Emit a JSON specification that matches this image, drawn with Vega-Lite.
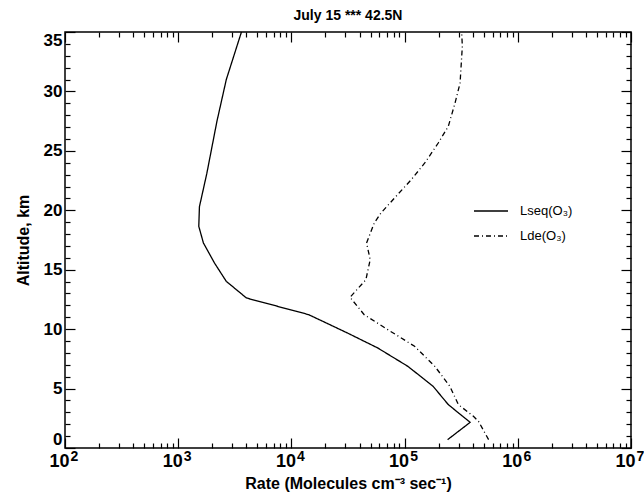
{
  "$schema": "https://vega.github.io/schema/vega-lite/v6.json",
  "width": 566,
  "height": 416,
  "autosize": {"type": "none"},
  "padding": {"left": 65, "top": 32, "right": 13, "bottom": 47},
  "background": "white",
  "title": {"text": "July 15 *** 42.5N", "font": "Liberation Sans", "fontSize": 14, "fontWeight": "bold", "color": "black", "anchor": "middle", "offset": 6},
  "config": {
    "view": {"stroke": "black", "strokeWidth": 1.5},
    "axis": {"domain": false, "tickColor": "black", "labelColor": "black", "titleColor": "black", "tickWidth": 1.2, "grid": false, "labelFont": "Liberation Sans", "titleFont": "Liberation Sans", "labelFlush": false, "labelOverlap": false, "labelBound": false}
  },
  "data": {"values": [
    {"series": "Lseq(O₃)", "alt": 35.0, "rate": 3620},
    {"series": "Lseq(O₃)", "alt": 31.0, "rate": 2660},
    {"series": "Lseq(O₃)", "alt": 27.5, "rate": 2200},
    {"series": "Lseq(O₃)", "alt": 23.1, "rate": 1790},
    {"series": "Lseq(O₃)", "alt": 20.3, "rate": 1540},
    {"series": "Lseq(O₃)", "alt": 18.65, "rate": 1520},
    {"series": "Lseq(O₃)", "alt": 17.25, "rate": 1670},
    {"series": "Lseq(O₃)", "alt": 15.57, "rate": 2090},
    {"series": "Lseq(O₃)", "alt": 14.02, "rate": 2660},
    {"series": "Lseq(O₃)", "alt": 12.62, "rate": 4010},
    {"series": "Lseq(O₃)", "alt": 11.22, "rate": 14200},
    {"series": "Lseq(O₃)", "alt": 9.68, "rate": 31200},
    {"series": "Lseq(O₃)", "alt": 8.42, "rate": 57800},
    {"series": "Lseq(O₃)", "alt": 6.87, "rate": 106900},
    {"series": "Lseq(O₃)", "alt": 5.19, "rate": 178600},
    {"series": "Lseq(O₃)", "alt": 3.65, "rate": 243200},
    {"series": "Lseq(O₃)", "alt": 2.16, "rate": 379300},
    {"series": "Lseq(O₃)", "alt": 0.7, "rate": 239900},
    {"series": "Lde(O₃)", "alt": 35.0, "rate": 319200},
    {"series": "Lde(O₃)", "alt": 33.8, "rate": 323600},
    {"series": "Lde(O₃)", "alt": 30.7, "rate": 309000},
    {"series": "Lde(O₃)", "alt": 29.0, "rate": 278600},
    {"series": "Lde(O₃)", "alt": 27.06, "rate": 243200},
    {"series": "Lde(O₃)", "alt": 25.66, "rate": 198200},
    {"series": "Lde(O₃)", "alt": 23.98, "rate": 150700},
    {"series": "Lde(O₃)", "alt": 22.58, "rate": 114600},
    {"series": "Lde(O₃)", "alt": 21.18, "rate": 84140},
    {"series": "Lde(O₃)", "alt": 19.77, "rate": 61800},
    {"series": "Lde(O₃)", "alt": 18.93, "rate": 53950},
    {"series": "Lde(O₃)", "alt": 17.25, "rate": 46130},
    {"series": "Lde(O₃)", "alt": 15.85, "rate": 49660},
    {"series": "Lde(O₃)", "alt": 14.16, "rate": 45500},
    {"series": "Lde(O₃)", "alt": 12.68, "rate": 32960},
    {"series": "Lde(O₃)", "alt": 11.22, "rate": 43950},
    {"series": "Lde(O₃)", "alt": 9.96, "rate": 70960},
    {"series": "Lde(O₃)", "alt": 8.56, "rate": 122500},
    {"series": "Lde(O₃)", "alt": 6.87, "rate": 184900},
    {"series": "Lde(O₃)", "alt": 5.19, "rate": 251200},
    {"series": "Lde(O₃)", "alt": 3.65, "rate": 298500},
    {"series": "Lde(O₃)", "alt": 2.67, "rate": 405500},
    {"series": "Lde(O₃)", "alt": 2.24, "rate": 449800},
    {"series": "Lde(O₃)", "alt": 0.7, "rate": 552100}
  ]},
  "layer": [
    {
      "mark": {"type": "line", "color": "black", "strokeWidth": 1.3},
      "encoding": {
        "x": {"field": "rate", "type": "quantitative", "scale": {"type": "log", "domain": [100, 10000000]},
          "axis": {"orient": "bottom", "title": null, "labels": false, "tickSize": 10, "offset": -10,
            "values": [100, 1000, 10000, 100000, 1000000, 10000000]}},
        "y": {"field": "alt", "type": "quantitative", "scale": {"domain": [0, 35]},
          "axis": {"orient": "left", "title": null, "labels": false, "tickSize": 10, "offset": -10,
            "values": [0, 5, 10, 15, 20, 25, 30, 35]}},
        "order": {"field": "alt", "type": "quantitative"},
        "strokeDash": {"field": "series", "type": "nominal",
          "scale": {"domain": ["Lseq(O₃)", "Lde(O₃)"], "range": [[1, 0], [5, 3, 1, 3]]},
          "legend": {"orient": "none", "legendX": 408, "legendY": 161, "title": null, "symbolType": "stroke", "symbolSize": 1156, "symbolStrokeColor": "black", "symbolStrokeWidth": 1.3, "labelFont": "Liberation Sans", "labelFontSize": 13, "labelColor": "black", "labelOffset": 11, "rowPadding": -16}}
      }
    },
    {
      "mark": {"type": "line", "opacity": 0},
      "encoding": {
        "x": {"field": "rate", "type": "quantitative",
          "axis": {"orient": "top", "title": null, "labels": false, "tickSize": 10, "offset": -10,
            "values": [100, 1000, 10000, 100000, 1000000, 10000000]}},
        "y": {"field": "alt", "type": "quantitative",
          "axis": {"orient": "right", "title": null, "labels": false, "tickSize": 10, "offset": -10,
            "values": [0, 5, 10, 15, 20, 25, 30, 35]}},
        "order": {"field": "alt", "type": "quantitative"},
        "detail": {"field": "series", "type": "nominal"}
      }
    },
    {
      "mark": {"type": "line", "opacity": 0},
      "encoding": {
        "x": {"field": "rate", "type": "quantitative",
          "axis": {"orient": "bottom", "title": null, "labels": false, "tickSize": 5, "offset": -5,
            "values": [200,300,400,500,600,700,800,900,2000,3000,4000,5000,6000,7000,8000,9000,20000,30000,40000,50000,60000,70000,80000,90000,200000,300000,400000,500000,600000,700000,800000,900000,2000000,3000000,4000000,5000000,6000000,7000000,8000000,9000000]}},
        "y": {"field": "alt", "type": "quantitative",
          "axis": {"orient": "left", "title": null, "labels": false, "tickSize": 5, "offset": -5,
            "values": [1,2,3,4,6,7,8,9,11,12,13,14,16,17,18,19,21,22,23,24,26,27,28,29,31,32,33,34]}},
        "order": {"field": "alt", "type": "quantitative"},
        "detail": {"field": "series", "type": "nominal"}
      }
    },
    {
      "mark": {"type": "line", "opacity": 0},
      "encoding": {
        "x": {"field": "rate", "type": "quantitative",
          "axis": {"orient": "top", "title": null, "labels": false, "tickSize": 5, "offset": -5,
            "values": [200,300,400,500,600,700,800,900,2000,3000,4000,5000,6000,7000,8000,9000,20000,30000,40000,50000,60000,70000,80000,90000,200000,300000,400000,500000,600000,700000,800000,900000,2000000,3000000,4000000,5000000,6000000,7000000,8000000,9000000]}},
        "y": {"field": "alt", "type": "quantitative",
          "axis": {"orient": "right", "title": null, "labels": false, "tickSize": 5, "offset": -5,
            "values": [1,2,3,4,6,7,8,9,11,12,13,14,16,17,18,19,21,22,23,24,26,27,28,29,31,32,33,34]}},
        "order": {"field": "alt", "type": "quantitative"},
        "detail": {"field": "series", "type": "nominal"}
      }
    },
    {
      "mark": {"type": "line", "opacity": 0},
      "encoding": {
        "x": {"field": "rate", "type": "quantitative",
          "axis": {"orient": "bottom", "ticks": false, "tickSize": 0,
            "values": [100, 1000, 10000, 100000, 1000000, 10000000],
            "labelExpr": "'10'", "labelFontSize": 18, "labelFontWeight": "bold", "labelBaseline": "top", "labelPadding": 4, "labelOffset": -6,
            "title": "Rate (Molecules cm⁻³ sec⁻¹)", "titleFontSize": 16, "titleFontWeight": "bold", "titlePadding": 5}},
        "y": {"field": "alt", "type": "quantitative",
          "axis": {"orient": "left", "ticks": false, "tickSize": 0,
            "values": [0, 5, 10, 15, 20, 25, 30, 35], "labelFlush": true,
            "labelFontSize": 17, "labelFontWeight": "bold", "labelPadding": 3,
            "title": "Altitude, km", "titleFontSize": 16, "titleFontWeight": "bold", "titlePadding": 12}},
        "order": {"field": "alt", "type": "quantitative"},
        "detail": {"field": "series", "type": "nominal"}
      }
    },
    {
      "mark": {"type": "line", "opacity": 0},
      "encoding": {
        "x": {"field": "rate", "type": "quantitative",
          "axis": {"orient": "bottom", "ticks": false, "tickSize": 0, "title": null,
            "values": [100, 1000, 10000, 100000, 1000000, 10000000],
            "labelExpr": "'' + round(log(datum.value)/LN10)", "labelFontSize": 14, "labelFontWeight": "bold", "labelBaseline": "top", "labelPadding": 1, "labelOffset": 9}},
        "y": {"field": "alt", "type": "quantitative", "axis": null},
        "order": {"field": "alt", "type": "quantitative"},
        "detail": {"field": "series", "type": "nominal"}
      }
    }
  ],
  "resolve": {"axis": {"x": "independent", "y": "independent"}}
}
